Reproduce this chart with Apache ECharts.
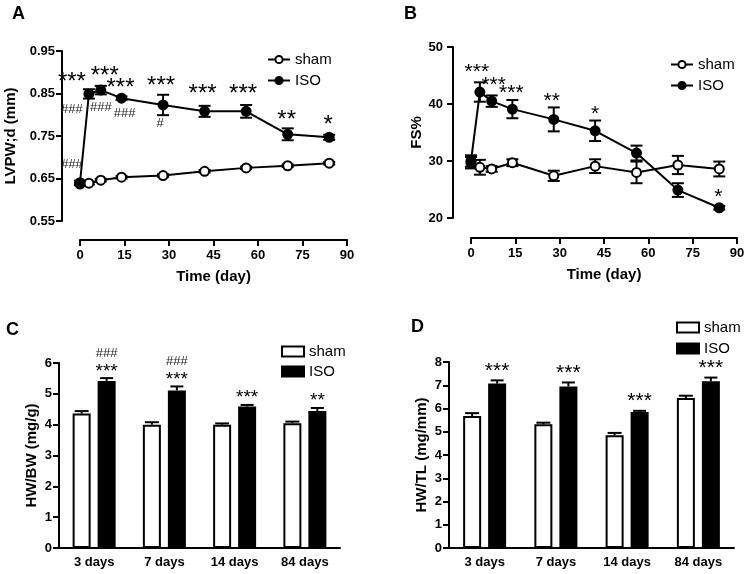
<!DOCTYPE html>
<html><head><meta charset="utf-8">
<script src="https://cdn.jsdelivr.net/npm/echarts@6/dist/echarts.min.js"></script>
<style>html,body{margin:0;padding:0;background:#fff}#c{width:748px;height:574px}</style>
</head><body><div id="c"></div>
<script>
// ---------- DATA ----------
const days = [0, 3, 7, 14, 28, 42, 56, 70, 84];
const timeTicks = [0, 15, 30, 45, 60, 75, 90];

const lvpwSham    = [0.637, 0.639, 0.646, 0.653, 0.657, 0.667, 0.675, 0.680, 0.686];
const lvpwShamErr = [0.003, 0.003, 0.003, 0.003, 0.003, 0.003, 0.003, 0.003, 0.003];
const lvpwIso     = [0.640, 0.849, 0.858, 0.839, 0.823, 0.808, 0.808, 0.754, 0.747];
const lvpwIsoErr  = [0.005, 0.011, 0.010, 0.004, 0.024, 0.013, 0.015, 0.014, 0.006];
const lvpwStars   = ['', '***', '***', '***', '***', '***', '***', '**', '*'];
const lvpwHashes  = ['###', '###', '###', '###', '#', '', '', '', ''];

const fsSham    = [29.7, 28.9, 28.6, 29.7, 27.4, 29.1, 28.0, 29.3, 28.6];
const fsShamErr = [1.0, 1.3, 0.5, 0.6, 0.9, 1.2, 1.9, 1.6, 1.3];
const fsIso     = [30.0, 42.1, 40.5, 39.1, 37.3, 35.3, 31.4, 24.9, 21.8];
const fsIsoErr  = [1.0, 1.7, 1.0, 1.6, 2.1, 1.8, 1.3, 1.2, 0.3];
const fsStars   = ['', '***', '***', '***', '**', '*', '', '', '*'];

const groups = ['3 days', '7 days', '14 days', '84 days'];
const hwbwSham    = [4.36, 4.00, 4.00, 4.05];
const hwbwShamErr = [0.08, 0.08, 0.04, 0.05];
const hwbwIso     = [5.42, 5.11, 4.59, 4.44];
const hwbwIsoErr  = [0.09, 0.13, 0.05, 0.10];
const hwbwStars   = ['***', '***', '***', '**'];
const hwbwHashes  = ['###', '###', '', ''];

const hwtlSham    = [5.68, 5.32, 4.85, 6.45];
const hwtlShamErr = [0.12, 0.07, 0.10, 0.10];
const hwtlIso     = [7.07, 6.95, 5.85, 7.17];
const hwtlIsoErr  = [0.14, 0.17, 0.05, 0.16];
const hwtlStars   = ['***', '***', '***', '***'];

// ---------- LAYOUT / STYLE ----------
const FONT = 'Liberation Sans, Arial, sans-serif';
const BAR_W = 18, BAR_GAP = 7, BAR_SHIFT = (BAR_W + BAR_GAP) / 2;
const starOffA = [[0,0],[-17,-17],[4,-19],[-1,-15],[-2,-24],[-2,-22],[-3,-22],[-1,-19],[-1,-17]];
const hashOffA = [[-8,-18],[-17,15],[0,17],[3,15],[-3,18],[0,0],[0,0],[0,0],[0,0]];
const starOffB = [[0,0],[-3,-24],[2,-21],[-1,-21],[-2,-23],[0,-21],[0,0],[0,0],[-1,-15]];

const axisLine = {show: true, onZero: false, lineStyle: {color: '#000', width: 2}};
const axisTick = {show: true, inside: false, length: 6, lineStyle: {color: '#000', width: 2}};
const lbl = {color: '#000', fontFamily: FONT, fontWeight: 'bold', fontSize: 13};
const nameStyle = {color: '#000', fontFamily: FONT, fontWeight: 'bold', fontSize: 15};

function valueX(grid, offset) {
  return {type: 'value', gridIndex: grid, min: timeTicks[0], max: timeTicks[timeTicks.length - 1],
    interval: timeTicks[1] - timeTicks[0], offset: offset,
    axisLine, axisTick, axisLabel: Object.assign({margin: 9}, lbl), splitLine: {show: false},
    name: 'Time (day)', nameLocation: 'middle', nameGap: 29, nameTextStyle: nameStyle};
}
function catX(grid) {
  return {type: 'category', gridIndex: grid, data: groups, axisLine, axisTick: {show: false},
    axisLabel: Object.assign({margin: 8}, lbl), splitLine: {show: false}};
}
function valueY(grid, min, max, interval, offset, name, gap, margin, fmt) {
  return {type: 'value', gridIndex: grid, min, max, interval, offset,
    axisLine, axisTick, axisLabel: Object.assign({margin: margin, formatter: fmt}, lbl),
    splitLine: {show: false}, name, nameLocation: 'middle', nameGap: gap, nameTextStyle: nameStyle};
}

function errSeries(ai, xs, vals, errs, opts) {
  return {type: 'custom', xAxisIndex: ai, yAxisIndex: ai, silent: true, z: opts.z || 1,
    data: xs.map((x, i) => [x, vals[i], errs[i]]),
    renderItem(params, api) {
      const x = api.value(0), v = api.value(1), e = api.value(2);
      const top = api.coord([x, v + e]);
      const bot = api.coord([x, opts.upOnly ? v : v - e]);
      const dx = opts.dx || 0, cx = top[0] + dx, hw = opts.cap / 2;
      const st = {stroke: '#000', lineWidth: 2};
      const ch = [
        {type: 'line', shape: {x1: cx, y1: top[1], x2: cx, y2: bot[1]}, style: st},
        {type: 'line', shape: {x1: cx - hw, y1: top[1], x2: cx + hw, y2: top[1]}, style: st}
      ];
      if (!opts.upOnly) ch.push({type: 'line', shape: {x1: cx - hw, y1: bot[1], x2: cx + hw, y2: bot[1]}, style: st});
      return {type: 'group', children: ch};
    }};
}

function annotSeries(ai, xs, anchors, stars, hashes, starOff, hashOff, sizes) {
  return {type: 'custom', xAxisIndex: ai, yAxisIndex: ai, silent: true, z: 6,
    data: xs.map((x, i) => [x, anchors[i], i]),
    renderItem(params, api) {
      const i = api.value(2);
      const p = api.coord([api.value(0), api.value(1)]);
      const ch = [];
      const so = typeof starOff === 'function' ? starOff(i) : starOff[i];
      if (stars[i]) ch.push({type: 'text', x: p[0] + so[0], y: p[1] + so[1] + sizes.star * 0.22,
        style: {text: stars[i], fill: '#000', font: sizes.star + 'px ' + FONT, align: 'center', verticalAlign: 'middle'}});
      if (hashes && hashes[i]) {
        const ho = typeof hashOff === 'function' ? hashOff(i) : hashOff[i];
        ch.push({type: 'text', x: p[0] + ho[0], y: p[1] + ho[1],
          style: {text: hashes[i], fill: '#222', font: sizes.hash + 'px ' + FONT, align: 'center', verticalAlign: 'middle'}});
      }
      return {type: 'group', children: ch};
    }};
}

function lineSeries(ai, name, vals, filled) {
  return {type: 'line', name, xAxisIndex: ai, yAxisIndex: ai, z: 3,
    data: days.map((d, i) => [d, vals[i]]), symbol: 'circle', symbolSize: 9,
    lineStyle: {color: '#000', width: 2},
    itemStyle: {color: filled ? '#000' : '#fff', borderColor: '#000', borderWidth: 2},
    emphasis: {disabled: true}};
}
function barSeries(ai, name, vals, filled) {
  return {type: 'bar', name, xAxisIndex: ai, yAxisIndex: ai, z: 2, barWidth: BAR_W,
    barGap: (BAR_GAP / BAR_W * 100) + '%', data: vals,
    itemStyle: {color: filled ? '#000' : '#fff', borderColor: '#000', borderWidth: 2},
    emphasis: {disabled: true}};
}
const legendText = {color: '#000', fontFamily: FONT, fontSize: 15};
const idx = groups.map((g, i) => i);
const sum = (a, b) => a.map((v, i) => v + b[i]);

const option = {
  animation: false,
  backgroundColor: '#fff',
  grid: [
    {left: 80, top: 51, width: 267, height: 170, containLabel: false},
    {left: 471, top: 47, width: 266, height: 171, containLabel: false},
    {left: 59, top: 363, width: 281, height: 185, containLabel: false},
    {left: 449, top: 362, width: 285, height: 186, containLabel: false}
  ],
  xAxis: [valueX(0, 19), valueX(1, 20), catX(2), catX(3)],
  yAxis: [
    valueY(0, 0.55, 0.95, 0.1, 18, 'LVPW;d (mm)', 44, 7, v => v.toFixed(2)),
    valueY(1, 20, 50, 10, 18, 'FS%', 29, 10),
    valueY(2, 0, 6, 1, 0, 'HW/BW (mg/g)', 20, 7),
    valueY(3, 0, 8, 1, 0, 'HW/TL (mg/mm)', 20, 7)
  ],
  legend: [
    {data: ['sham', 'ISO'], left: 262, top: 47, orient: 'vertical', itemWidth: 22, itemHeight: 9, itemGap: 6, textStyle: legendText, selectedMode: false},
    {data: ['sham', 'ISO'], left: 665, top: 52, orient: 'vertical', itemWidth: 22, itemHeight: 9, itemGap: 6, textStyle: legendText, selectedMode: false},
    {data: ['sham ', 'ISO '], left: 276, top: 339, orient: 'vertical', icon: 'rect', itemWidth: 22, itemHeight: 10, itemGap: 5, textStyle: legendText, selectedMode: false},
    {data: ['sham ', 'ISO '], left: 671, top: 315, orient: 'vertical', icon: 'rect', itemWidth: 22, itemHeight: 10, itemGap: 6, textStyle: legendText, selectedMode: false}
  ],
  graphic: [
    {type: 'text', left: 12, top: 5, style: {text: 'A', font: 'bold 18px ' + FONT, fill: '#000'}},
    {type: 'text', left: 404, top: 5, style: {text: 'B', font: 'bold 18px ' + FONT, fill: '#000'}},
    {type: 'text', left: 6, top: 321, style: {text: 'C', font: 'bold 18px ' + FONT, fill: '#000'}},
    {type: 'text', left: 411, top: 318, style: {text: 'D', font: 'bold 18px ' + FONT, fill: '#000'}}
  ],
  series: [
    errSeries(0, days, lvpwSham, lvpwShamErr, {cap: 12}),
    errSeries(0, days, lvpwIso, lvpwIsoErr, {cap: 12}),
    lineSeries(0, 'sham', lvpwSham, false),
    lineSeries(0, 'ISO', lvpwIso, true),
    annotSeries(0, days, lvpwIso, lvpwStars, lvpwHashes, starOffA, hashOffA, {star: 24, hash: 13}),

    errSeries(1, days, fsSham, fsShamErr, {cap: 12}),
    errSeries(1, days, fsIso, fsIsoErr, {cap: 12}),
    lineSeries(1, 'sham', fsSham, false),
    lineSeries(1, 'ISO', fsIso, true),
    annotSeries(1, days, fsIso, fsStars, null, starOffB, null, {star: 21, hash: 13}),

    barSeries(2, 'sham ', hwbwSham, false),
    barSeries(2, 'ISO ', hwbwIso, true),
    errSeries(2, idx, hwbwSham, hwbwShamErr, {cap: 14, upOnly: true, dx: -BAR_SHIFT, z: 3}),
    errSeries(2, idx, hwbwIso, hwbwIsoErr, {cap: 13, upOnly: true, dx: BAR_SHIFT, z: 3}),
    annotSeries(2, idx, sum(hwbwIso, hwbwIsoErr), hwbwStars, hwbwHashes, () => [BAR_SHIFT, -11], () => [BAR_SHIFT, -25], {star: 19, hash: 13}),

    barSeries(3, 'sham ', hwtlSham, false),
    barSeries(3, 'ISO ', hwtlIso, true),
    errSeries(3, idx, hwtlSham, hwtlShamErr, {cap: 14, upOnly: true, dx: -BAR_SHIFT, z: 3}),
    errSeries(3, idx, hwtlIso, hwtlIsoErr, {cap: 13, upOnly: true, dx: BAR_SHIFT, z: 3}),
    annotSeries(3, idx, sum(hwtlIso, hwtlIsoErr), hwtlStars, null, () => [BAR_SHIFT, -14], null, {star: 21, hash: 13})
  ]
};
const chart = echarts.init(document.getElementById('c'), null, {renderer: 'canvas'});
chart.setOption(option);
</script></body></html>
